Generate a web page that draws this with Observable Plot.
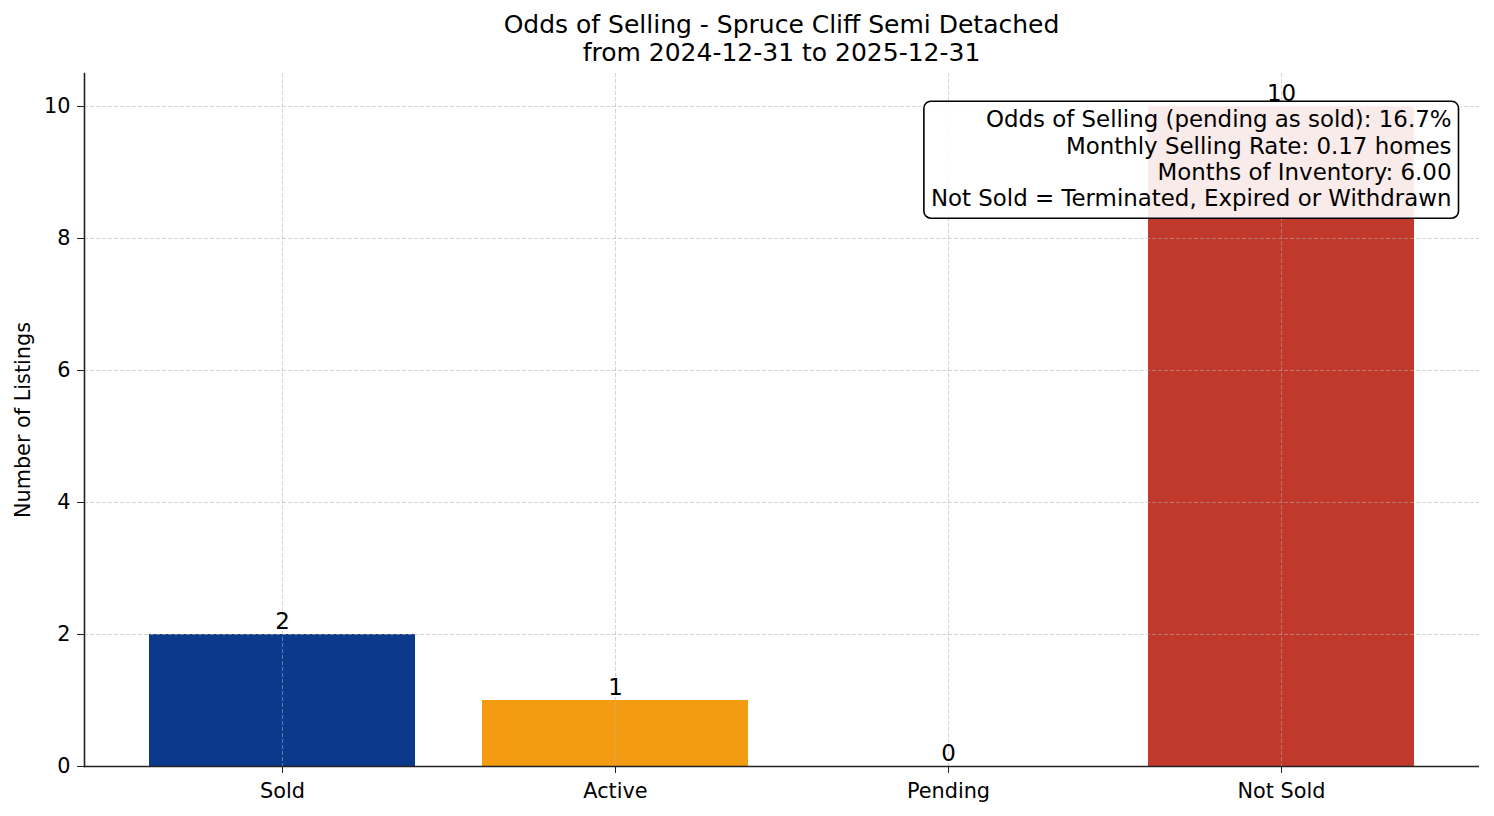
<!DOCTYPE html>
<html>
<head>
<meta charset="utf-8">
<script src="https://cdn.jsdelivr.net/npm/d3@7"></script>
<script src="https://cdn.jsdelivr.net/npm/@observablehq/plot@0.6"></script>
<style>
  html, body { margin: 0; padding: 0; background: #fff; }
  #wrap { width: 1494px; height: 816px; overflow: hidden; }
  #title {
    box-sizing: border-box; height: 66px; padding: 11px 15px 0 84px;
    font-family: "DejaVu Sans", sans-serif; font-size: 25px; line-height: 28px;
    text-align: center; color: #000;
  }
</style>
</head>
<body>
<div id="wrap">
  <div id="title">Odds of Selling - Spruce Cliff Semi Detached<br>from 2024-12-31 to 2025-12-31</div>
  <div id="chart"></div>
</div>
<script>
const categories = ["Sold", "Active", "Pending", "Not Sold"];
const counts = [2, 1, 0, 10];
const colors = ["#0b3a8c", "#f39c12", "#95a5a6", "#c0392b"];
const yTicks = [0, 2, 4, 6, 8, 10];
const annotationLines = [
  "Odds of Selling (pending as sold): 16.7%",
  "Monthly Selling Rate: 0.17 homes",
  "Months of Inventory: 6.00",
  "Not Sold = Terminated, Expired or Withdrawn"
];

const data = categories.map((c, i) => ({category: c, count: counts[i], color: colors[i]}));

const gridStyle = {stroke: "#b0b0b0", strokeOpacity: 0.55, strokeDasharray: "4,2", strokeWidth: 1};

const chart = Plot.plot({
  width: 1494,
  height: 750,
  marginTop: 7,
  marginLeft: 84,
  marginRight: 15,
  marginBottom: 50,
  style: {fontFamily: "DejaVu Sans, sans-serif", fontSize: "20.8px", color: "#000", background: "#fff"},
  x: {domain: categories, paddingInner: 0.2, paddingOuter: 0.19, label: null},
  y: {domain: [0, 10.5], ticks: yTicks},
  marks: [
    Plot.barY(data, {x: "category", y: "count", fill: "color"}),
    Plot.gridX(categories, gridStyle),
    Plot.gridY(yTicks, gridStyle),
    Plot.axisX({tickSize: 7, tickPadding: 10, fontSize: 20.8, label: null, stroke: "#222"}),
    Plot.axisY(yTicks, {tickSize: 7, tickPadding: 7, fontSize: 20.8, tickFormat: d => String(d),
      label: "Number of Listings", labelAnchor: "center", labelArrow: "none", labelOffset: 69, stroke: "#222"}),
    Plot.ruleY([0], {stroke: "#222", strokeWidth: 1.6}),
    Plot.frame({anchor: "left", stroke: "#222", strokeWidth: 1.6}),
    Plot.text(data, {x: "category", y: "count", text: d => String(d.count), lineAnchor: "bottom", dy: -6, fontSize: 22.9, fill: "#000"}),
    Plot.text([annotationLines.join("\n")], {frameAnchor: "top-right", text: d => d, textAnchor: "end",
      lineAnchor: "top", dx: -28, dy: 35, fontSize: 22.9, lineHeight: 1.15, fill: "#000", className: "annot"})
  ]
});

document.getElementById("chart").appendChild(chart);

// rounded annotation box behind the annotation text (same local coordinates as the text)
const annotG = chart.querySelector("g.annot");
if (annotG) {
  const bb = annotG.getBBox();
  const rect = document.createElementNS("http://www.w3.org/2000/svg", "rect");
  rect.setAttribute("x", bb.x - 7);
  rect.setAttribute("y", bb.y - 5);
  rect.setAttribute("width", bb.width + 14);
  rect.setAttribute("height", bb.height + 12);
  rect.setAttribute("rx", 7);
  rect.setAttribute("ry", 7);
  rect.setAttribute("fill", "#fff");
  rect.setAttribute("fill-opacity", 0.9);
  rect.setAttribute("stroke", "#000");
  rect.setAttribute("stroke-width", 1.6);
  annotG.insertBefore(rect, annotG.firstChild);
}
</script>
</body>
</html>
